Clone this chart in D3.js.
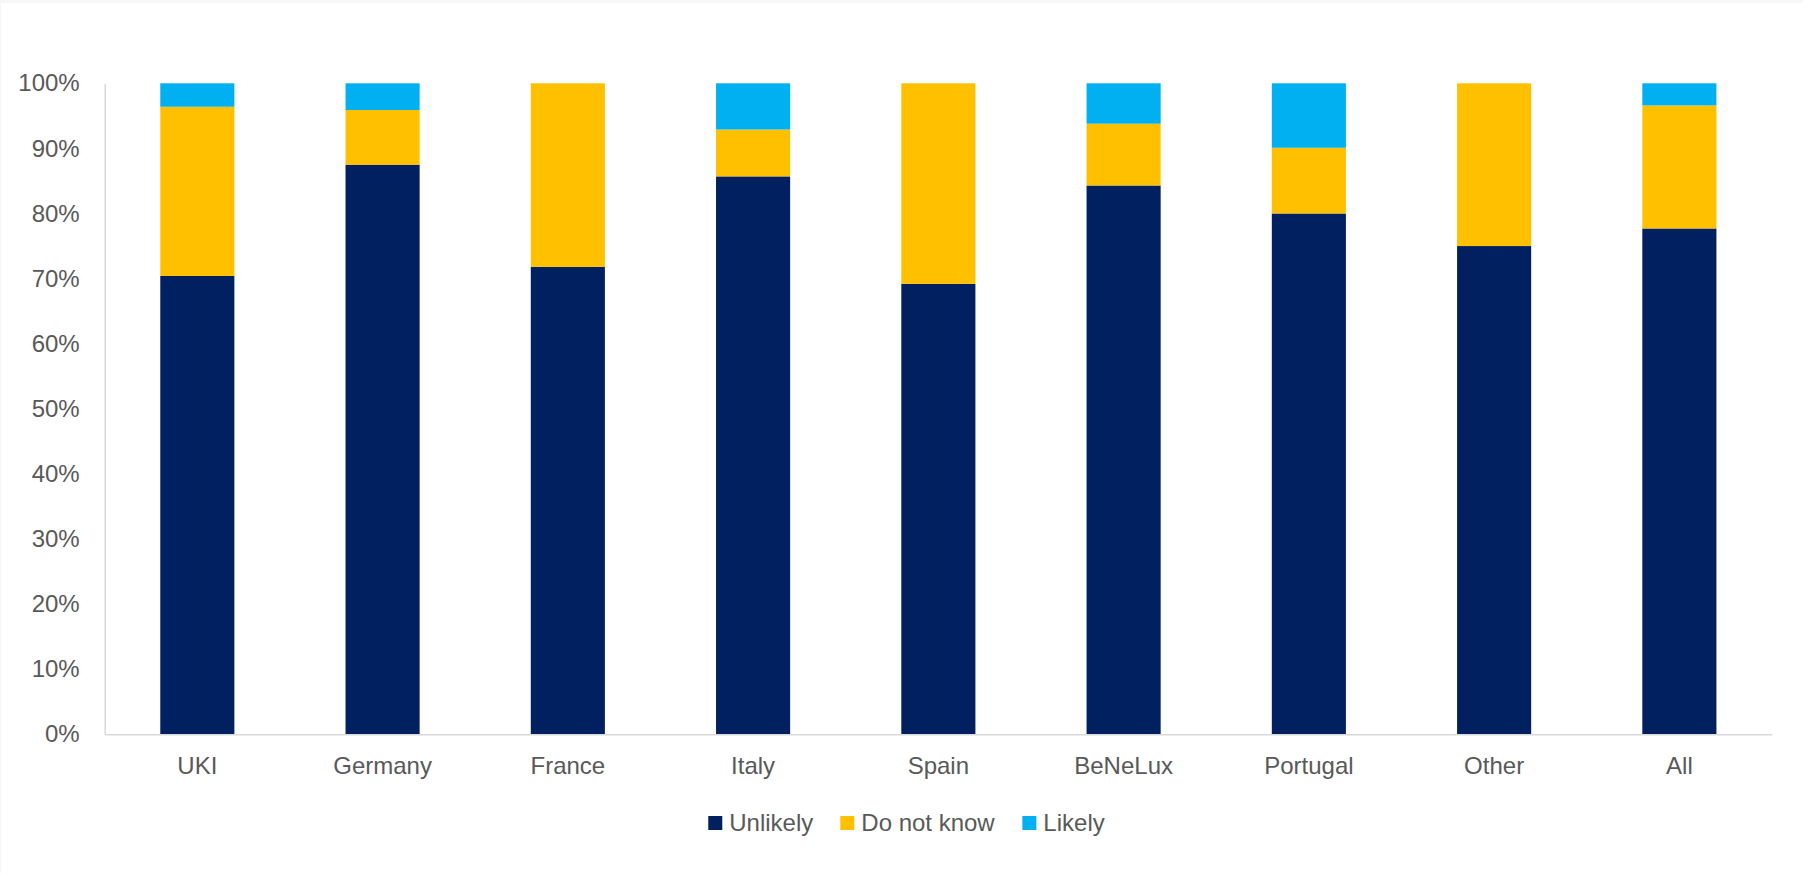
<!DOCTYPE html>
<html>
<head>
<meta charset="utf-8">
<script src="https://cdn.jsdelivr.net/npm/d3@7"></script>
<style>
  html, body { margin: 0; padding: 0; background: #f7f7f7; }
  svg { display: block; }
  text { font-family: "Liberation Sans", Arial, sans-serif; fill: #595959; }
</style>
</head>
<body>
<svg id="chart" width="1803" height="873"></svg>
<script>
const categories = ["UKI", "Germany", "France", "Italy", "Spain", "BeNeLux", "Portugal", "Other", "All"];
const seriesNames = ["Unlikely", "Do not know", "Likely"];
const unlikely   = [70.4, 87.5, 71.8, 85.7, 69.2, 84.3, 80.0, 75.0, 77.7];
const doNotKnow  = [26.0,  8.4, 28.2,  7.2, 30.8,  9.5, 10.1, 25.0, 18.9];
const likely     = [ 3.6,  4.1,  0.0,  7.1,  0.0,  6.2,  9.9,  0.0,  3.4];
const yTicks = [0, 10, 20, 30, 40, 50, 60, 70, 80, 90, 100];
const colors = ["#002060", "#FFC000", "#00B0F0"];

const svg = d3.select("#chart");
svg.append("rect").attr("x", 1).attr("y", 3).attr("width", 1802).attr("height", 870).attr("fill", "#ffffff");

const plotLeft = 104.7, plotRight = 1772, plotTop = 83.3, plotBottom = 734.3;
const fontSize = 24;

const x = d3.scaleBand().domain(categories).range([plotLeft, plotRight]).paddingInner(0.6).paddingOuter(0.3);
const y = d3.scaleLinear().domain([0, 100]).range([plotBottom, plotTop]);

const rows = categories.map((c, i) => ({cat: c, "Unlikely": unlikely[i], "Do not know": doNotKnow[i], "Likely": likely[i]}));
const stacked = d3.stack().keys(seriesNames)(rows);

const g = svg.append("g");
stacked.forEach((layer, si) => {
  g.append("g").attr("fill", colors[si])
    .selectAll("rect").data(layer).join("rect")
    .attr("x", d => x(d.data.cat))
    .attr("width", x.bandwidth())
    .attr("y", d => y(d[1]))
    .attr("height", d => Math.max(0, y(d[0]) - y(d[1])));
});

// Y axis
const yAxis = svg.append("g").attr("transform", `translate(${plotLeft},0)`)
  .call(d3.axisLeft(y).tickValues(yTicks).tickFormat(d => d + "%").tickSize(0).tickPadding(25));
yAxis.select(".domain").attr("stroke", "#d9d9d9").attr("stroke-width", 1.5);
yAxis.selectAll("text").attr("font-size", fontSize).attr("fill", "#595959")
  .attr("font-family", "'Liberation Sans', Arial, sans-serif");

// X axis
const xAxis = svg.append("g").attr("transform", `translate(0,${plotBottom})`)
  .call(d3.axisBottom(x).tickSize(0).tickPadding(23));
xAxis.select(".domain").attr("stroke", "#d9d9d9").attr("stroke-width", 1.5);
xAxis.selectAll("text").attr("font-size", fontSize).attr("fill", "#595959")
  .attr("font-family", "'Liberation Sans', Arial, sans-serif");

// Legend
const legend = svg.append("g");
const items = legend.selectAll("g").data(seriesNames).join("g");
items.append("rect").attr("width", 14).attr("height", 14).attr("y", -7).attr("fill", (d, i) => colors[i]);
items.append("text").attr("x", 21).attr("dy", "0.35em").attr("font-size", fontSize).text(d => d);
let offset = 0;
items.each(function() {
  const w = this.getBBox().width;
  d3.select(this).attr("transform", `translate(${offset},823)`);
  offset += w + 27;
});
const totalW = offset - 27;
legend.attr("transform", `translate(${906.5 - totalW / 2},0)`);
</script>
</body>
</html>
